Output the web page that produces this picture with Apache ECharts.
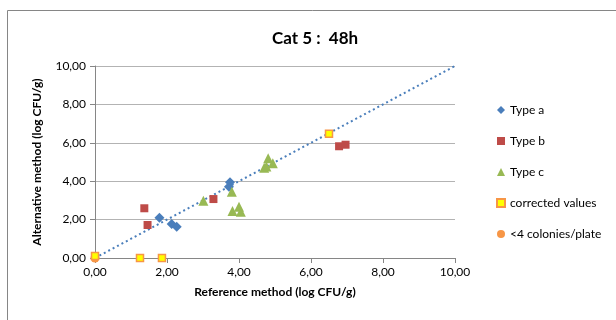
<!DOCTYPE html>
<html><head><meta charset="utf-8">
<script src="https://cdn.jsdelivr.net/npm/echarts@6/dist/echarts.min.js"></script>
<style>html,body{margin:0;padding:0;background:#fff}#c{width:616px;height:320px}</style>
</head><body><div id="c"></div>
<script>
const titleText = 'Cat 5 :  48h';
const xTitle = 'Reference method (log CFU/g)';
const yTitle = 'Alternative method (log CFU/g)';
const typeA = [[1.79,2.10],[2.13,1.77],[2.27,1.63],[3.75,3.94],[3.72,3.71]];
const typeB = [[1.37,2.59],[1.46,1.72],[3.29,3.07],[6.78,5.82],[6.96,5.90]];
const typeC = [[3.01,2.98],[3.80,3.45],[3.82,2.45],[4.00,2.67],[4.05,2.41],[4.70,4.70],[4.76,4.76],[4.81,5.19],[4.94,4.93]];
const corrected = [[0.00,0.10],[1.25,0.00],[1.86,0.00],[6.50,6.47]];
const fewColonies = [[0.00,0.00]];
const diagonal = [[0,0],[10,10]];
const seriesNames = ['Type a','Type b','Type c','corrected values','<4 colonies/plate'];

const fmt = v => v.toFixed(2).replace('.', ',');
const font = 'Lato';
const chart = echarts.init(document.getElementById('c'), null, {renderer:'canvas'});
chart.setOption({
  animation:false,
  textStyle:{fontFamily:font},
  title:{text:titleText,left:310,top:25,textAlign:'center',
    textStyle:{fontSize:17,fontWeight:'bold',color:'#000',fontFamily:font}},
  graphic:[{type:'rect',shape:{x:7.5,y:10.5,width:620,height:320},
    style:{fill:'none',stroke:'#868686',lineWidth:1},silent:true}],
  grid:{left:95,right:161,top:66,bottom:62},
  legend:{orient:'vertical',left:491,top:99,itemGap:19,itemWidth:8,itemHeight:8,
    textStyle:{fontSize:12,color:'#000',fontFamily:font},
    data:seriesNames.map(n=>({name:n}))},
  xAxis:{type:'value',min:0,max:10,interval:2,
    name:xTitle,nameLocation:'middle',nameGap:28,
    nameTextStyle:{fontSize:12,fontWeight:'bold',color:'#000'},
    axisLine:{show:true,lineStyle:{color:'#868686'}},
    axisTick:{show:true,inside:false,length:5,lineStyle:{color:'#868686'}},
    axisLabel:{formatter:fmt,fontSize:12,color:'#000',margin:8},
    splitLine:{show:false}},
  yAxis:{type:'value',min:0,max:10,interval:2,
    name:yTitle,nameLocation:'middle',nameGap:52,nameRotate:90,
    nameTextStyle:{fontSize:12,fontWeight:'bold',color:'#000'},
    axisLine:{show:true,lineStyle:{color:'#868686'}},
    axisTick:{show:true,length:5,lineStyle:{color:'#868686'}},
    axisLabel:{formatter:fmt,fontSize:12,color:'#000',margin:9},
    splitLine:{show:true,lineStyle:{color:'#b3b3b3',width:1}}},
  series:[
    {type:'line',data:diagonal,showSymbol:false,symbol:'none',
      lineStyle:{type:[2,3],color:'#4a7ebb',width:2},z:1,silent:true},
    {name:seriesNames[4],type:'scatter',data:fewColonies,symbol:'circle',symbolSize:9,
      itemStyle:{color:'#f79646',opacity:1},z:2},
    {name:seriesNames[0],type:'scatter',data:typeA,symbol:'diamond',symbolSize:10,
      itemStyle:{color:'#4a7ebb',opacity:1},z:3},
    {name:seriesNames[1],type:'scatter',data:typeB,symbol:'rect',symbolSize:8,
      itemStyle:{color:'#be4b48',opacity:1},z:3},
    {name:seriesNames[2],type:'scatter',data:typeC,symbol:'triangle',symbolSize:10,
      itemStyle:{color:'#98b954',opacity:1},z:3},
    {name:seriesNames[3],type:'scatter',data:corrected,symbol:'rect',symbolSize:7,
      itemStyle:{color:'#ffff00',borderColor:'#f79646',borderWidth:1.5,opacity:1},z:4}
  ]
});
</script></body></html>
